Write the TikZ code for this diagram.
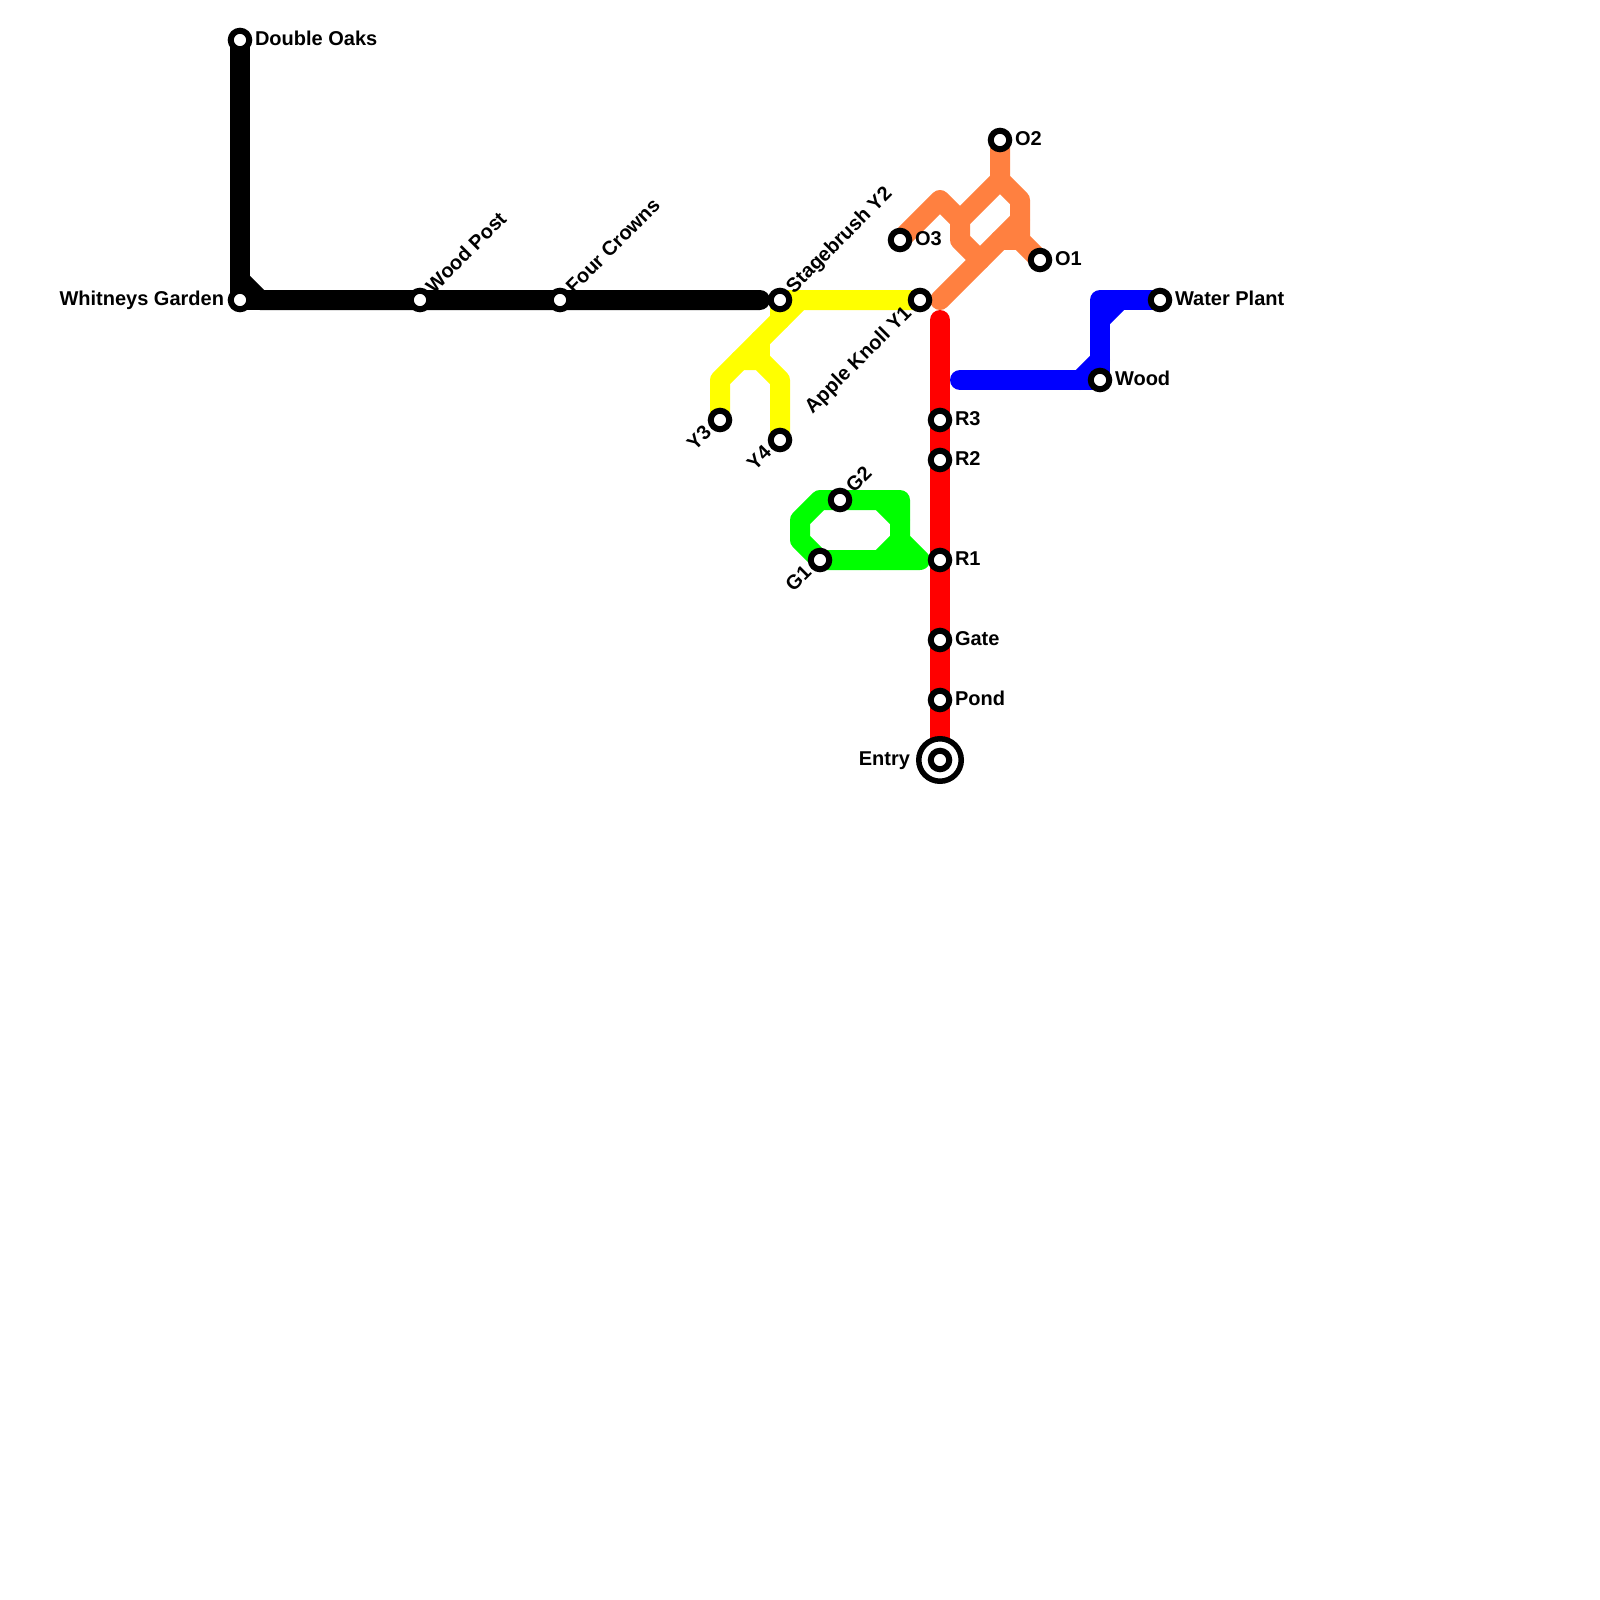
\documentclass[tikz,border=0pt]{standalone}
\usepackage{fontspec}
\setmainfont{Liberation Sans}
\pgfdeclarelayer{lines}
\pgfsetlayers{lines,main}
\definecolor{lineorange}{HTML}{FF8040}
\definecolor{linegreen}{HTML}{00FF00}
\definecolor{lineblue}{HTML}{0000FF}
\definecolor{linered}{HTML}{FF0000}
\definecolor{lineyellow}{HTML}{FFFF00}
\tikzset{
  x=1pt,y=-1pt,
  stn/.style={circle,draw=black,line width=6pt,fill=white,minimum size=18.5pt,inner sep=0pt},
  entryring/.style={circle,draw=black,line width=5.5pt,fill=white,minimum size=42.5pt,inner sep=0pt},
  route/.style={line width=20pt,line cap=round,line join=round},
  lab/.style={font=\bfseries\fontsize{20}{24}\selectfont,text=black,inner sep=0pt,outer sep=0pt},
  labr/.style={lab,anchor=base west},
  labl/.style={lab,anchor=base east},
  labup/.style={lab,anchor=base west,rotate=45},
  labdn/.style={lab,anchor=base east,rotate=45}
}
\begin{document}
\begin{tikzpicture}
\useasboundingbox (0,0) rectangle (1600,1600);
% entry ring sits below its inner station
\node[entryring] (entryo) at (940,760) {};
% stations
\node[stn] (dbl) at (240,40) {};
\node[stn] (whit) at (240,300) {};
\node[stn] (wpost) at (420,300) {};
\node[stn] (four) at (560,300) {};
\node[stn] (stage) at (780,300) {};
\node[stn] (apple) at (920,300) {};
\node[stn] (ythree) at (720,420) {};
\node[stn] (yfour) at (780,440) {};
\node[stn] (otwo) at (1000,140) {};
\node[stn] (othree) at (900,240) {};
\node[stn] (oone) at (1040,260) {};
\node[stn] (rthree) at (940,420) {};
\node[stn] (rtwo) at (940,460) {};
\node[stn] (rone) at (940,560) {};
\node[stn] (gate) at (940,640) {};
\node[stn] (pond) at (940,700) {};
\node[stn] (entry) at (940,760) {};
\node[stn] (gone) at (820,560) {};
\node[stn] (gtwo) at (840,500) {};
\node[stn] (water) at (1160,300) {};
\node[stn] (wood) at (1100,380) {};
% labels
\node[labr] (ldbl) at (255,46) {Double Oaks};
\node[labl] (lwhit) at (224,305) {Whitneys Garden};
\node[labup] (lwpost) at (434,294) {Wood Post};
\node[labup] (lfour) at (574,294) {Four Crowns};
\node[labup] (lstage) at (794,294) {Stagebrush Y2};
\node[labdn] (lapple) at (912.5,314.5) {Apple Knoll Y1};
\node[labdn] (lythree) at (712.5,434) {Y3};
\node[labdn] (lyfour) at (772.5,454) {Y4};
\node[labr] (lotwo) at (1015,146) {O2};
\node[labr] (lothree) at (915,245) {O3};
\node[labr] (loone) at (1055,265) {O1};
\node[labr] (lrthree) at (955,425) {R3};
\node[labr] (lrtwo) at (955,465) {R2};
\node[labr] (lrone) at (955,565) {R1};
\node[labr] (lgate) at (955,645) {Gate};
\node[labr] (lpond) at (955,705) {Pond};
\node[labl] (lentry) at (910,765) {Entry};
\node[labdn] (lgone) at (812.5,574) {G1};
\node[labup] (lgtwo) at (854,493) {G2};
\node[labr] (lwater) at (1175,305) {Water Plant};
\node[labr] (lwood) at (1115,385) {Wood};
% bend points
\coordinate (bka) at (240,280);
\coordinate (bkb) at (260,300);
\coordinate (bkend) at (760,300);
\coordinate (ya) at (720,380);
\coordinate (yb) at (800,300);
\coordinate (yc) at (780,320);
\coordinate (yd) at (780,380);
\coordinate (ye) at (760,360);
\coordinate (yf) at (740,360);
\coordinate (yg) at (760,340);
\coordinate (oa) at (1000,180);
\coordinate (ob) at (1020,200);
\coordinate (oc) at (1020,240);
\coordinate (od) at (940,200);
\coordinate (oe) at (960,220);
\coordinate (of) at (960,240);
\coordinate (og) at (980,260);
\coordinate (oh) at (940,300);
\coordinate (oi) at (1020,220);
\coordinate (oj) at (1000,240);
\coordinate (rtop) at (940,320);
\coordinate (blstart) at (960,380);
\coordinate (bla) at (1080,380);
\coordinate (blb) at (1100,360);
\coordinate (blc) at (1100,320);
\coordinate (bld) at (1120,300);
\coordinate (blcorner) at (1100,300);
\coordinate (ga) at (820,500);
\coordinate (gb) at (800,520);
\coordinate (gc) at (800,540);
\coordinate (gd) at (920,560);
\coordinate (ge) at (900,540);
\coordinate (gf) at (900,500);
\coordinate (gg) at (880,500);
\coordinate (gh) at (900,520);
\coordinate (gi) at (880,560);
\begin{pgfonlayer}{lines}
\fill[white] (0,0) rectangle (1600,1600);
\draw[route,black] (dbl.center) -- (bka) -- (whit.center);
\draw[route,black] (bka) -- (bkb) -- (bkend);
\draw[route,black] (whit.center) -- (bkb);
\draw[route,lineyellow] (ythree.center) -- (ya) -- (yb) -- (apple.center);
\draw[route,lineyellow] (stage.center) -- (yb);
\draw[route,lineyellow] (stage.center) -- (yc);
\draw[route,lineyellow] (yfour.center) -- (yd) -- (ye) -- (yf);
\draw[route,lineyellow] (ye) -- (yg);
\draw[route,lineorange] (otwo.center) -- (oa) -- (ob) -- (oc) -- (oone.center);
\draw[route,lineorange] (othree.center) -- (od) -- (oe) -- (of) -- (og);
\draw[route,lineorange] (oa) -- (oe);
\draw[route,lineorange] (oh) -- (oi);
\draw[route,lineorange] (oj) -- (oc);
\draw[route,linegreen] (gtwo.center) -- (ga) -- (gb) -- (gc) -- (gone.center) -- (gd) -- (ge) -- (gf) -- (gtwo.center);
\draw[route,linegreen] (gg) -- (gh);
\draw[route,linegreen] (ge) -- (gi);
\draw[route,lineblue] (blstart) -- (wood.center) -- (blcorner) -- (water.center);
\draw[route,lineblue] (bla) -- (blb);
\draw[route,lineblue] (blc) -- (bld);
\draw[route,linered] (rtop) -- (entry.center);
\end{pgfonlayer}
\end{tikzpicture}
\end{document}
